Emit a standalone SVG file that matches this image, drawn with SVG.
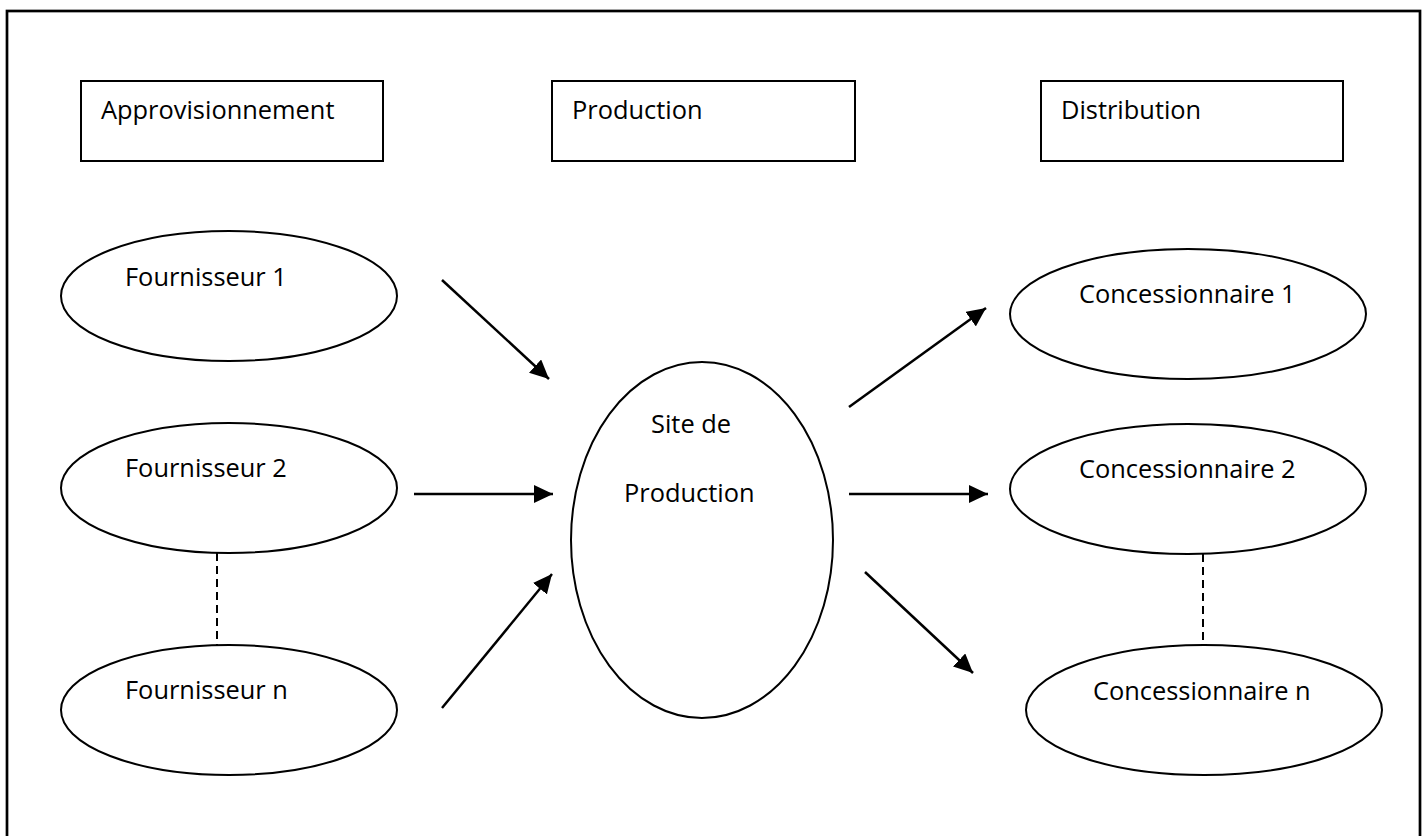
<svg xmlns="http://www.w3.org/2000/svg" width="1427" height="836" viewBox="0 0 1427 836">
  <style>
    .frame { fill: none; stroke: #000; stroke-width: 2.7; }
    .box { fill: #fff; stroke: #000; stroke-width: 2; }
    .oval { fill: #fff; stroke: #000; stroke-width: 2; }
    .label { font-family: "Open Sans", "Noto Sans", "Liberation Sans", sans-serif; font-size: 25.4px; fill: #000; }
    .flow { stroke: #000; stroke-width: 2.5; fill: none; marker-end: url(#head); }
    .dots { stroke: #000; stroke-width: 2; stroke-dasharray: 8 5; fill: none; }
  </style>
  <defs>
    <marker id="head" markerUnits="userSpaceOnUse" markerWidth="20" markerHeight="18" refX="19" refY="9" orient="auto">
      <path d="M0,0 L19,9 L0,18 z" fill="#000"/>
    </marker>
  </defs>

  <rect x="0" y="0" width="1427" height="836" fill="#fff"/>
  <!-- page frame (runs past the bottom edge) -->
  <rect class="frame" x="7" y="11" width="1413" height="900"/>

  <!-- column headers -->
  <g id="hdr-approvisionnement">
    <rect class="box" x="81" y="81" width="302" height="80"/>
    <text class="label" x="101" y="119">Approvisionnement</text>
  </g>
  <g id="hdr-production">
    <rect class="box" x="552" y="81" width="303" height="80"/>
    <text class="label" x="572" y="119">Production</text>
  </g>
  <g id="hdr-distribution">
    <rect class="box" x="1041" y="81" width="302" height="80"/>
    <text class="label" x="1061" y="119">Distribution</text>
  </g>

  <!-- connectors -->
  <g id="connectors">
    <line class="flow" x1="442" y1="280" x2="549" y2="379"/>
    <line class="flow" x1="414" y1="494" x2="553" y2="494"/>
    <line class="flow" x1="442" y1="708" x2="552" y2="574"/>
    <line class="flow" x1="849" y1="407" x2="986" y2="308"/>
    <line class="flow" x1="849" y1="494" x2="988" y2="494"/>
    <line class="flow" x1="865" y1="572" x2="973" y2="673"/>
    <line class="dots" x1="217" y1="553" x2="217" y2="645"/>
    <line class="dots" x1="1203" y1="554" x2="1203" y2="645"/>
  </g>

  <!-- suppliers -->
  <g id="fournisseur-1">
    <ellipse class="oval" cx="229" cy="296" rx="168" ry="65"/>
    <text class="label" x="125" y="286">Fournisseur 1</text>
  </g>
  <g id="fournisseur-2">
    <ellipse class="oval" cx="229" cy="488" rx="168" ry="65"/>
    <text class="label" x="125" y="477">Fournisseur 2</text>
  </g>
  <g id="fournisseur-n">
    <ellipse class="oval" cx="229" cy="710" rx="168" ry="65"/>
    <text class="label" x="125" y="699">Fournisseur n</text>
  </g>

  <!-- production site -->
  <g id="site-production">
    <ellipse class="oval" cx="702" cy="540" rx="131" ry="178"/>
    <text class="label" x="651" y="433">Site de</text>
    <text class="label" x="624" y="502">Production</text>
  </g>

  <!-- dealers -->
  <g id="concessionnaire-1">
    <ellipse class="oval" cx="1188" cy="314" rx="178" ry="65"/>
    <text class="label" x="1079" y="303">Concessionnaire 1</text>
  </g>
  <g id="concessionnaire-2">
    <ellipse class="oval" cx="1188" cy="489" rx="178" ry="65"/>
    <text class="label" x="1079" y="478">Concessionnaire 2</text>
  </g>
  <g id="concessionnaire-n">
    <ellipse class="oval" cx="1204" cy="710" rx="178" ry="65"/>
    <text class="label" x="1093" y="700">Concessionnaire n</text>
  </g>
</svg>
